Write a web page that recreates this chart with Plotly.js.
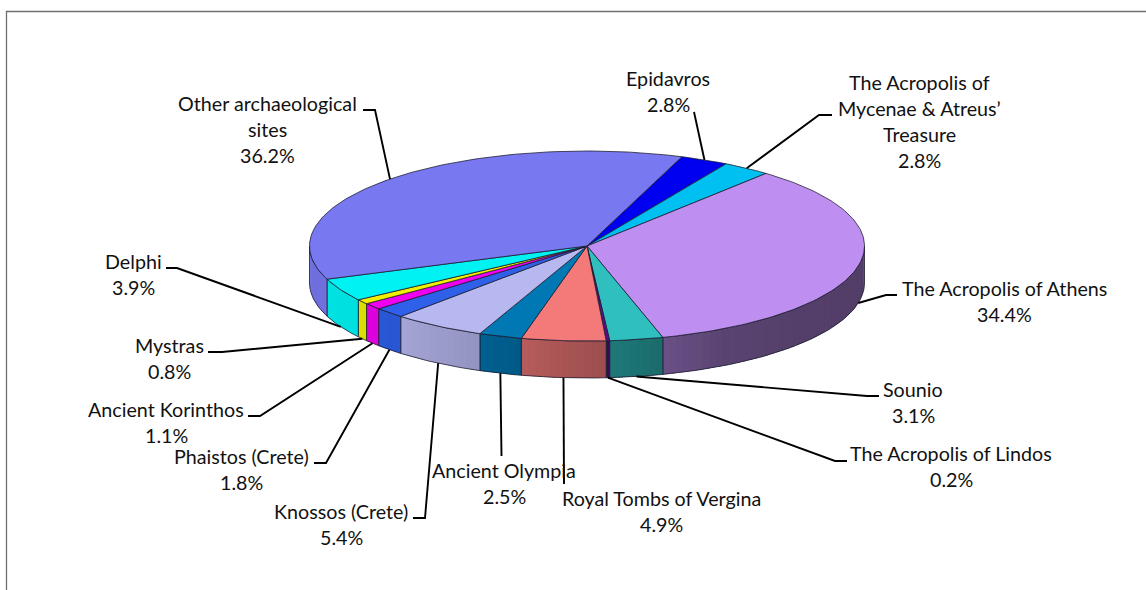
<!DOCTYPE html>
<html><head><meta charset="utf-8">
<script src="https://cdn.plot.ly/plotly-3.0.1.min.js"></script>
<style>html,body{margin:0;padding:0;background:#fff;overflow:hidden}</style></head>
<body><div id="chart" style="width:1146px;height:590px"></div>
<script>
// ---- data, clockwise from the first slice ----
const sites = ["Epidavros","The Acropolis of Mycenae & Atreus’ Treasure","The Acropolis of Athens","Sounio","The Acropolis of Lindos","Royal Tombs of Vergina","Ancient Olympia","Knossos (Crete)","Phaistos (Crete)","Ancient Korinthos","Mystras","Delphi","Other archaeological sites"];
const shares = [2.8,2.8,34.4,3.1,0.2,4.9,2.5,5.4,1.8,1.1,0.8,3.9,36.2];
const labelLines = [["Epidavros"],["The Acropolis of","Mycenae & Atreus’","Treasure"],["The Acropolis of Athens"],["Sounio"],["The Acropolis of Lindos"],["Royal Tombs of Vergina"],["Ancient Olympia"],["Knossos (Crete)"],["Phaistos (Crete)"],["Ancient Korinthos"],["Mystras"],["Delphi"],["Other archaeological","sites"]];
// ---- styles and layout ----
const colors = ["#0000F0","#00C0F2","#BE8FF0","#30BFBF","#5A0E86","#F47A7A","#0078B4","#B8B8F0","#2E60EA","#F000F0","#F0F000","#00F2F2","#7878F0"];
const labelX = [668,919.5,1004,913,951,661,504,341,241,166,169,133,267];
const labelY = [78,82,288,389,453,498,470,511,456,409,345,261,103];
const lineStep = 26.2;
const elbows = [[[694,112]],[[819,115],[832,115]],[[886,295],[897,295]],[[867,396],[879,396]],[[835,461],[847,461]],[[564,484]],[[501.5,456]],[[425,518],[413,518]],[[326,463],[314,463]],[[260,416],[248,416]],[[222,352],[208,352]],[[177,268],[166,268]],[[375,110],[363,110]]];
const cx=587, cy=246, rx=277.5, ry=95, depth=37, startDeg=20;
const shadeStops=[[90,.43],[130,.44],[150,.47],[164,.56],[170,.6],[178,.65],[192,.74],[210,.84],[230,.92],[250,.93],[270,.9]];

const rad=d=>d*Math.PI/180;
const px=t=>cx+rx*Math.sin(rad(t));
const py=(t,dz=0)=>cy-ry*Math.cos(rad(t))+dz;
const total=shares.reduce((a,b)=>a+b,0);
let acc=startDeg;
const slices=shares.map(v=>{const a=acc;acc+=v/total*360;return [a,acc];});
function arc(a,b,dz=0,step=1){const xs=[],ys=[];const n=Math.max(1,Math.ceil((b-a)/step));for(let i=0;i<=n;i++){const t=a+(b-a)*i/n;xs.push(px(t));ys.push(py(t,dz));}return [xs,ys];}
function shade(t){for(let i=1;i<shadeStops.length;i++){const [t0,s0]=shadeStops[i-1],[t1,s1]=shadeStops[i];if(t<=t1)return s0+(s1-s0)*(t-t0)/(t1-t0);}return shadeStops[shadeStops.length-1][1];}
function dark(hex,s){const n=parseInt(hex.slice(1),16);return `rgb(${Math.round((n>>16&255)*s)},${Math.round((n>>8&255)*s)},${Math.round((n&255)*s)})`;}
const traces=[];
const base={type:'scatter',mode:'lines',hoverinfo:'skip',showlegend:false};
const edge={color:'rgba(25,25,45,.85)',width:.9};
// side wall: each gradient band runs on under the next one, so no seams show
slices.forEach(([a,b],i)=>{
  const lo=Math.max(a,90),hi=Math.min(b,270);
  if(hi<=lo)return;
  const n=Math.max(1,Math.ceil((hi-lo)/1.5));
  for(let k=0;k<n;k++){
    const s0=lo+(hi-lo)*k/n,s1=Math.min(hi,lo+(hi-lo)*(k+1)/n+1);
    const [tx,ty]=arc(s0,s1,0,.5),[bx,by]=arc(s0,s1,depth,.5);
    const col=dark(colors[i],shade(s0+(hi-lo)/n/2));
    traces.push({...base,x:[...tx,...bx.reverse(),tx[0]],y:[...ty,...by.reverse(),ty[0]],fill:'toself',fillcolor:col,line:{color:col,width:0}});
  }
  const [tx,ty]=arc(lo,hi),[bx,by]=arc(lo,hi,depth);
  traces.push({...base,x:[...tx,...bx.reverse(),tx[0]],y:[...ty,...by.reverse(),ty[0]],line:edge});
});
// top face
slices.forEach(([a,b],i)=>{
  const [xs,ys]=arc(a,b);
  traces.push({...base,x:[cx,...xs,cx],y:[cy,...ys,cy],fill:'toself',fillcolor:colors[i],line:edge});
});
// leaders and labels
const annotations=[];
slices.forEach(([a,b],i)=>{
  const m=(a+b)/2, m360=m%360;
  const front=m360>90&&m360<270;
  const ax=px(m360), ay=py(m360,front?depth:0);
  traces.push({...base,x:[ax,...elbows[i].map(p=>p[0])],y:[ay,...elbows[i].map(p=>p[1])],line:{color:'#000',width:1.9}});
  const lines=[...labelLines[i],shares[i].toFixed(1)+'%'];
  lines.forEach((t,k)=>annotations.push({x:labelX[i],y:labelY[i]+k*lineStep,xref:'x',yref:'y',text:t,showarrow:false,xanchor:'center',yanchor:'middle',font:{family:'Lato, Carlito, sans-serif',size:19.7,color:'#111'}}));
});
const hidden={visible:false,fixedrange:true};
Plotly.newPlot('chart',traces,{
  width:1146,height:590,margin:{l:0,r:0,t:0,b:0},paper_bgcolor:'#fff',plot_bgcolor:'#fff',
  xaxis:{...hidden,range:[0,1146]},yaxis:{...hidden,range:[590,0]},
  annotations,
  shapes:[{type:'rect',xref:'x',yref:'y',x0:6.5,x1:1300,y0:11.5,y1:700,line:{color:'#707070',width:1.3}}]
},{staticPlot:true,displayModeBar:false});
</script></body></html>
